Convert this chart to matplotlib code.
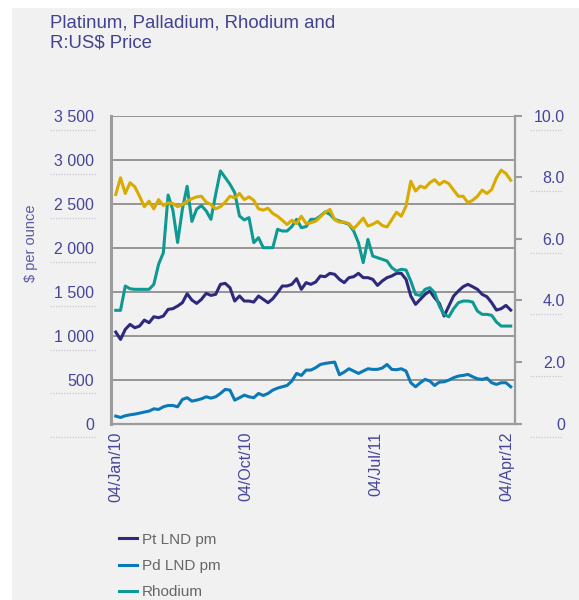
import numpy as np
import pandas as pd
import matplotlib
matplotlib.use("Agg")
import matplotlib.pyplot as plt
from matplotlib.patches import Rectangle
import matplotlib.transforms as mtransforms

plt.rcParams['font.family'] = ['Liberation Sans', 'DejaVu Sans']

# sampled every 10 days from 04/Jan/10
dates = pd.date_range('2010-01-04', periods=84, freq='10D')

pt = [1041, 957, 1071, 1128, 1090, 1109, 1177, 1147, 1215, 1204, 1223, 1299, 1307, 1337, 1375, 1477, 1405, 1367, 1413, 1481, 1458,
      1470, 1584, 1595, 1546, 1394, 1451, 1394, 1394, 1382, 1451, 1413, 1375, 1420, 1489, 1565, 1565, 1584, 1648, 1527, 1603,
      1584, 1610, 1679, 1671, 1709, 1698, 1641, 1603, 1660, 1671, 1709, 1660, 1660, 1641, 1572, 1622, 1660, 1679, 1709, 1709, 1641, 1451,
      1356, 1413, 1470, 1508, 1432, 1367, 1223, 1337, 1451, 1508, 1557, 1584, 1557, 1527, 1470, 1443, 1375, 1291, 1307, 1344, 1291]

pd_ = [84, 69, 88, 99, 107, 118, 130, 141, 167, 160, 190, 205, 205, 190, 274, 293, 255, 266, 281, 304, 289,
       304, 342, 388, 380, 266, 293, 323, 304, 293, 342, 319, 342, 380, 403, 418, 433, 483, 570, 547, 608,
       608, 635, 672, 684, 692, 699, 555, 585, 623, 597, 570, 597, 623, 616, 616, 631, 672, 616, 612, 623, 597, 464,
       418, 464, 502, 483, 433, 471, 475, 494, 521, 540, 547, 559, 532, 509, 502, 517, 464, 445, 464, 464, 418]

rh = [1288, 1288, 1565, 1534, 1527, 1527, 1527, 1527, 1584, 1812, 1944, 2600, 2430, 2060, 2440, 2700, 2300, 2440, 2480, 2420, 2324,
      2609, 2875, 2799, 2723, 2628, 2362, 2317, 2343, 2058, 2115, 2001, 2001, 2001, 2210, 2191, 2191, 2241, 2324, 2229, 2241,
      2324, 2324, 2362, 2408, 2381, 2324, 2305, 2286, 2267, 2191, 2058, 1831, 2096, 1906, 1887, 1869, 1850, 1774, 1736, 1755, 1747, 1622,
      1470, 1458, 1527, 1546, 1489, 1337, 1242, 1215, 1307, 1375, 1394, 1394, 1382, 1280, 1242, 1242, 1231, 1155, 1109, 1109, 1109]

zar = [7.45, 7.99, 7.48, 7.83, 7.70, 7.39, 7.05, 7.23, 6.98, 7.28, 7.09, 7.18, 7.15, 7.05, 7.12, 7.23, 7.31, 7.37, 7.39, 7.20, 7.12,
       6.98, 7.05, 7.20, 7.39, 7.34, 7.48, 7.28, 7.37, 7.26, 6.98, 6.94, 7.00, 6.83, 6.74, 6.61, 6.47, 6.61, 6.50, 6.74, 6.50,
       6.53, 6.58, 6.72, 6.87, 6.96, 6.63, 6.55, 6.55, 6.50, 6.33, 6.50, 6.68, 6.42, 6.48, 6.57, 6.44, 6.39, 6.63, 6.87, 6.74, 7.07, 7.88,
       7.56, 7.72, 7.66, 7.83, 7.93, 7.77, 7.88, 7.80, 7.59, 7.39, 7.39, 7.18, 7.26, 7.39, 7.59, 7.48, 7.61, 7.99, 8.24, 8.13, 7.91]

x_ticks = ['2010-01-04', '2010-10-04', '2011-07-04', '2012-04-04']
x_labels = ['04/Jan/10', '04/Oct/10', '04/Jul/11', '04/Apr/12']
left_ticks = [0, 500, 1000, 1500, 2000, 2500, 3000, 3500]
left_labels = ['0', '500', '1 000', '1 500', '2 000', '2 500', '3 000', '3 500']
right_ticks = [0, 2, 4, 6, 8, 10]
right_labels = ['0', '2.0', '4.0', '6.0', '8.0', '10.0']

navy = '#2d2a7d'
blue = '#0b78b8'
teal = '#0e9a93'
gold = '#d9ab00'
txt = '#45459a'
bg = '#f1f1f1'
gridc = '#8e8e8e'

fig = plt.figure(figsize=(5.79, 6.0), dpi=100, facecolor='white')
fig.patches.append(Rectangle((12 / 579, 0), 1, 1 - 8 / 600, transform=fig.transFigure,
                             facecolor=bg, edgecolor='none', zorder=-5))

ax = fig.add_axes([111 / 579, 1 - 423.5 / 600, 404 / 579, 307.5 / 600])
ax.set_facecolor(bg)
ax.plot(dates, pt, color=navy, lw=2.2, label='Pt LND pm', zorder=3)
ax.plot(dates, pd_, color=blue, lw=2.2, label='Pd LND pm', zorder=3)
ax.plot(dates, rh, color=teal, lw=2.2, label='Rhodium', zorder=3)

ax.set_ylim(0, 3500)
ax.set_yticks(left_ticks)
ax.set_yticklabels(left_labels)
ax.set_xlim(pd.Timestamp('2009-12-25'), pd.Timestamp('2012-04-22'))
ax.set_xticks(pd.to_datetime(x_ticks))
ax.set_xticklabels(x_labels, rotation=90)
ax.grid(axis='y', color=gridc, lw=1.3)
ax.set_axisbelow(True)
ax.tick_params(axis='y', length=0, pad=12, labelsize=11.5, labelcolor=txt)
ax.tick_params(axis='x', length=0, pad=6, labelsize=11.5, labelcolor=txt)
for s in ['left', 'bottom', 'right', 'top']:
    ax.spines[s].set_color('#9c9c9c')
ax.spines['left'].set_linewidth(2.2)
ax.spines['bottom'].set_linewidth(1.6)
ax.spines['right'].set_linewidth(1.6)
ax.spines['top'].set_visible(False)
ax.set_ylabel('$ per ounce', color='#5a5aa6', fontsize=10.5)
ax.yaxis.set_label_coords(-0.18, 0.587)

ax2 = ax.twinx()
ax2.plot(dates, zar, color=gold, lw=2.2, zorder=3)
ax2.set_ylim(0, 10)
ax2.set_yticks(right_ticks)
ax2.set_yticklabels(right_labels)
ax2.tick_params(axis='y', length=5, width=1.5, color='#9c9c9c', pad=31, labelsize=11.5, labelcolor=txt)
for lab in ax2.get_yticklabels():
    lab.set_horizontalalignment('right')
for s in ['left', 'bottom', 'right', 'top']:
    ax2.spines[s].set_visible(False)

# faint dotted underline below each tick label
trl = mtransforms.blended_transform_factory(fig.transFigure, ax.transData)
off = mtransforms.ScaledTranslation(0, -10 / 72, fig.dpi_scale_trans)
for v in left_ticks:
    ax.plot([50 / 579, 96 / 579], [v, v], transform=trl + off, color='#c9c9d6',
            lw=0.9, ls=(0, (1, 1.2)), clip_on=False)
trr = mtransforms.blended_transform_factory(fig.transFigure, ax2.transData)
for v in right_ticks:
    ax2.plot([530 / 579, 563 / 579], [v, v], transform=trr + off, color='#c9c9d6',
             lw=0.9, ls=(0, (1, 1.2)), clip_on=False)

fig.text(50 / 579, 1 - 15 / 600, 'Platinum, Palladium, Rhodium and\nR:US$ Price',
         color='#42428f', fontsize=13.4, va='top', ha='left', linespacing=1.2)

fig.legend(loc='upper left', bbox_to_anchor=(105 / 579, 1 - 519 / 600), frameon=False,
           fontsize=11, handlelength=1.2, handletextpad=0.3, labelspacing=0.8,
           labelcolor='#666666')

fig.savefig('out.png', dpi=100, facecolor='white')
